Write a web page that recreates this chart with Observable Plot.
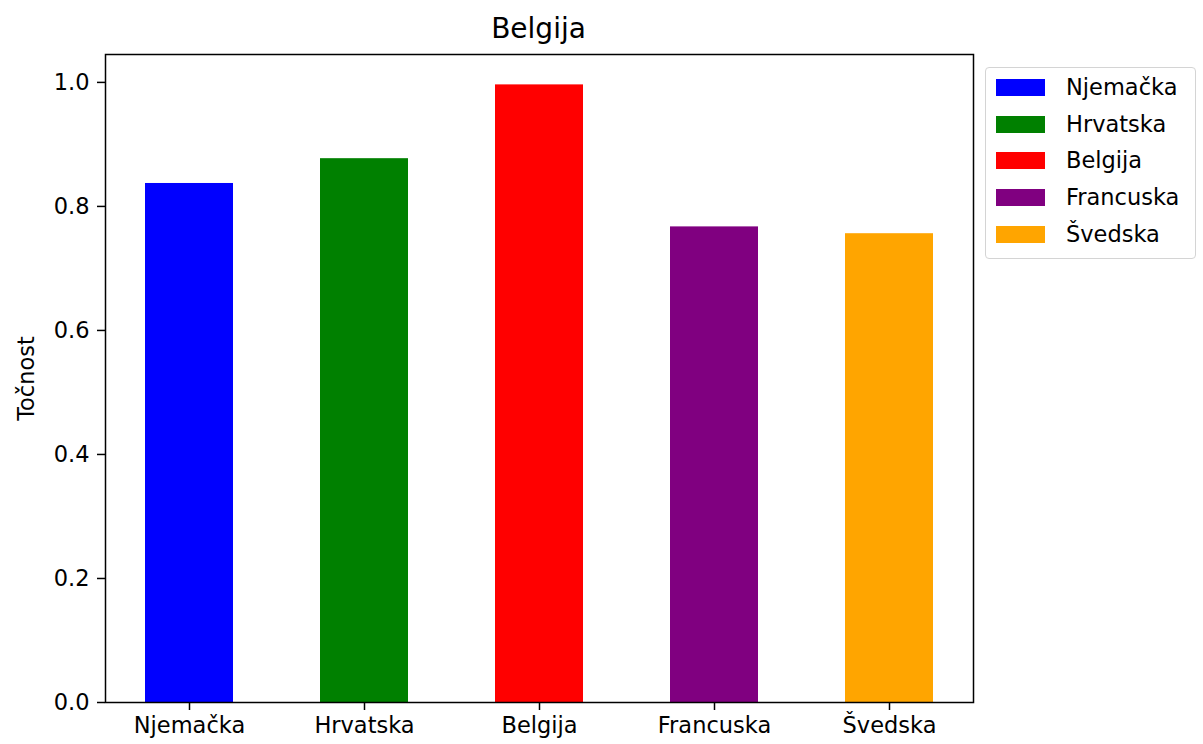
<!DOCTYPE html>
<html>
<head>
<meta charset="utf-8">
<script src="https://cdn.jsdelivr.net/npm/d3@7"></script>
<script src="https://cdn.jsdelivr.net/npm/@observablehq/plot@0.6"></script>
<style>
  html, body { margin: 0; padding: 0; background: #fff; }
  body { font-family: "DejaVu Sans", sans-serif; color: #000; }
  #wrap { position: relative; width: 1203px; height: 744px; }
  #title { position: absolute; left: 0; width: 1077px; top: 15px; text-align: center; font-size: 28px; line-height: 28px; }
  #legend { position: absolute; left: 985px; top: 67px; width: 209px; height: 190px; border: 1.5px solid #d4d4d4; border-radius: 4px; background: #fff; }
  .row { position: absolute; left: 0; height: 20px; }
  .sw { position: absolute; left: 10px; width: 49px; height: 17px; }
  .lbl { position: absolute; left: 80px; font-size: 22.5px; line-height: 22.5px; white-space: nowrap; }
</style>
</head>
<body>
<div id="wrap">
  <div id="chart"></div>
  <div id="title"></div>
  <div id="legend"></div>
</div>
<script>
const titleText = "Belgija";
const yLabel = "Točnost";
const countries = ["Njemačka", "Hrvatska", "Belgija", "Francuska", "Švedska"];
const accuracy = [0.837, 0.877, 0.996, 0.767, 0.756];
const colors = ["#0000ff", "#008000", "#ff0000", "#800080", "#ffa500"];
const yTicks = [0, 0.2, 0.4, 0.6, 0.8, 1.0];

const data = countries.map((c, i) => ({country: c, value: accuracy[i]}));

const chart = Plot.plot({
  width: 1203,
  height: 744,
  marginLeft: 105,
  marginRight: 230,
  marginTop: 54,
  marginBottom: 42,
  style: {fontFamily: "DejaVu Sans", fontSize: "22.5px", color: "#000", background: "transparent"},
  x: {type: "band", domain: countries, paddingInner: 0.5, paddingOuter: 0.225, align: 0.5},
  y: {domain: [0, 1.045]},
  color: {type: "ordinal", domain: countries, range: colors},
  marks: [
    Plot.barY(data, {x: "country", y: "value", fill: "country"}),
    Plot.axisY({ticks: yTicks, tickFormat: d3.format(".1f"), tickSize: 8, tickPadding: 8, strokeWidth: 1.5,
      label: yLabel, labelAnchor: "center", labelOffset: 87, labelArrow: "none"}),
    Plot.axisX({tickSize: 8, tickPadding: 7, strokeWidth: 1.5, label: null}),
    Plot.frame({stroke: "#000", strokeWidth: 1.5})
  ]
});
document.getElementById("chart").appendChild(chart);
document.getElementById("title").textContent = titleText;

const legend = document.getElementById("legend");
countries.forEach((c, i) => {
  const row = document.createElement("div");
  row.className = "row";
  row.style.top = (11 + i * 36.7) + "px";
  const sw = document.createElement("div");
  sw.className = "sw";
  sw.style.background = colors[i];
  const lbl = document.createElement("div");
  lbl.className = "lbl";
  lbl.style.top = "-3px";
  lbl.textContent = c;
  row.appendChild(sw);
  row.appendChild(lbl);
  legend.appendChild(row);
});
</script>
</body>
</html>
